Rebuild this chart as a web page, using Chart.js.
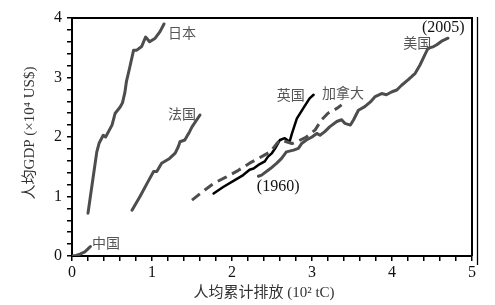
<!DOCTYPE html>
<html>
<head>
<meta charset="utf-8">
<script src="https://cdn.jsdelivr.net/npm/chart.js@4"></script>
<style>
html,body{margin:0;padding:0;background:#fff;}
#c{display:block;}
</style>
</head>
<body>
<canvas id="c" width="495" height="305"></canvas>
<script>
// ---- data (x: 人均累计排放 10² tC, y: 人均GDP 10⁴ US$) ----
const chinaX  = [0, 0.05, 0.10, 0.16, 0.20, 0.23];
const chinaY  = [0, 0.01, 0.03, 0.07, 0.12, 0.16];

const japanX  = [0.20,0.25,0.31,0.34,0.39,0.42,0.50,0.54,0.60,0.63,0.66,0.68,0.72,0.77,0.81,0.87,0.92,0.97,1.04,1.10,1.15];
const japanY  = [0.72,1.19,1.75,1.90,2.03,2.00,2.20,2.40,2.50,2.57,2.74,2.93,3.16,3.46,3.46,3.52,3.68,3.60,3.66,3.77,3.90];

const franceX = [0.75,0.85,0.95,1.02,1.06,1.12,1.22,1.29,1.33,1.35,1.41,1.47,1.50,1.56,1.60];
const franceY = [0.77,1.00,1.25,1.42,1.42,1.56,1.64,1.73,1.84,1.92,1.95,2.09,2.17,2.29,2.37];

const canadaX = [1.50,1.66,1.77,1.93,2.08,2.22,2.33,2.41,2.48,2.56,2.60,2.68,2.75,2.81,2.93,3.04,3.12,3.20,3.31,3.37];
const canadaY = [0.94,1.11,1.22,1.33,1.44,1.56,1.64,1.70,1.75,1.89,1.95,1.92,1.89,1.92,2.00,2.12,2.29,2.40,2.48,2.54];

const ukX     = [1.77,1.89,2.04,2.14,2.22,2.27,2.33,2.37,2.41,2.45,2.50,2.54,2.60,2.66,2.72,2.75,2.81,2.89,2.97,3.02];
const ukY     = [1.05,1.16,1.28,1.36,1.45,1.47,1.53,1.56,1.59,1.67,1.73,1.81,1.95,1.98,1.92,2.06,2.31,2.48,2.65,2.71];

const usX     = [2.33,2.37,2.48,2.56,2.62,2.68,2.77,2.83,2.87,2.93,3.00,3.06,3.10,3.16,3.22,3.31,3.37,3.41,3.48,3.52,3.58,3.66,3.73,3.79,3.87,3.93,4.00,4.06,4.12,4.20,4.29,4.35,4.41,4.45,4.52,4.56,4.62,4.70];
const usY     = [1.34,1.36,1.47,1.56,1.64,1.75,1.78,1.81,1.89,1.95,2.00,2.06,2.03,2.09,2.17,2.26,2.29,2.23,2.20,2.29,2.45,2.51,2.59,2.68,2.73,2.71,2.76,2.79,2.87,2.96,3.07,3.21,3.38,3.49,3.52,3.55,3.61,3.66];

const xTickLabels = [0,1,2,3,4,5];
const yTickLabels = [0,1,2,3,4];

// text annotations anchored at data coordinates (left edge, vertical middle)
const cnLabels   = [
  {text:'日本',   x:1.20, y:3.76},
  {text:'法国',   x:1.20, y:2.40},
  {text:'英国',   x:2.56, y:2.71},
  {text:'加拿大', x:3.125, y:2.74},
  {text:'美国',   x:4.14, y:3.58},
  {text:'中国',   x:0.25, y:0.22}
];
const yearLabels = [
  {text:'(2005)', x:4.375, y:3.83},
  {text:'(1960)', x:2.31,  y:1.16}
];

const xTitle = '人均累计排放 (10² tC)';
const yTitle = '人均GDP (×10⁴ US$)';

const zip = (xs, ys) => xs.map((x, i) => ({x, y: ys[i]}));
const GRAY = '#4d4d4d';
const SERIF = '"Liberation Serif", "DejaVu Serif", serif';
const CJK = '"Noto Sans CJK SC", "Noto Sans", sans-serif';

function line(label, xs, ys, color, width, dash) {
  return {
    label, data: zip(xs, ys), showLine: true, borderColor: color, borderWidth: width,
    borderDash: dash || [], pointRadius: 0, tension: 0, fill: false,
    borderJoinStyle: 'round', borderCapStyle: dash ? 'butt' : 'round'
  };
}

const intLabel = (list) => (v) => {
  const r = Math.round(v);
  return (Math.abs(v - r) < 1e-6 && list.includes(r)) ? String(r) : '';
};

const decor = {
  id: 'decor',
  afterDraw(chart) {
    const {ctx, chartArea: a, scales: {x, y}} = chart;
    ctx.save();
    // frame top/right
    ctx.strokeStyle = '#000';
    ctx.lineWidth = 2;
    ctx.beginPath();
    ctx.moveTo(a.left, a.top); ctx.lineTo(a.right, a.top); ctx.lineTo(a.right, a.bottom);
    ctx.stroke();
    // extra thin line at right
    ctx.lineWidth = 1.3;
    ctx.beginPath();
    ctx.moveTo(a.right + 5.5, a.top - 1); ctx.lineTo(a.right + 5.5, a.bottom + 9);
    ctx.stroke();
    // chinese labels
    ctx.textBaseline = 'middle';
    ctx.textAlign = 'left';
    ctx.fillStyle = '#555';
    ctx.font = '14px ' + CJK;
    cnLabels.forEach(l => ctx.fillText(l.text, x.getPixelForValue(l.x), y.getPixelForValue(l.y)));
    ctx.fillStyle = '#111';
    ctx.font = '16px ' + SERIF;
    yearLabels.forEach(l => ctx.fillText(l.text, x.getPixelForValue(l.x), y.getPixelForValue(l.y)));
    // axis titles
    ctx.fillStyle = '#333';
    ctx.font = '15px ' + SERIF.replace('serif', '"Noto Sans CJK SC", serif');
    ctx.textAlign = 'center';
    ctx.fillText(xTitle, (a.left + a.right) / 2 - 8, a.bottom + 37);
    ctx.translate(30, (a.top + a.bottom) / 2 - 4);
    ctx.rotate(-Math.PI / 2);
    ctx.fillText(yTitle, 0, 0);
    ctx.restore();
  }
};

new Chart(document.getElementById('c'), {
  type: 'scatter',
  data: {
    datasets: [
      line('中国', chinaX, chinaY, GRAY, 3),
      line('日本', japanX, japanY, GRAY, 3),
      line('法国', franceX, franceY, GRAY, 3),
      line('加拿大', canadaX, canadaY, GRAY, 3, [10, 6]),
      line('美国', usX, usY, GRAY, 3),
      line('英国', ukX, ukY, '#000', 2.5)
    ]
  },
  options: {
    responsive: false,
    animation: false,
    devicePixelRatio: 1,
    layout: {padding: {top: 18, right: 23, left: 0, bottom: 0}},
    plugins: {legend: {display: false}, tooltip: {enabled: false}},
    scales: {
      x: {
        type: 'linear', min: 0, max: 5,
        afterFit: s => { s.height = 49; },
        border: {display: true, color: '#000', width: 2},
        grid: {drawOnChartArea: false, drawTicks: true, tickLength: 5, color: '#000', lineWidth: 1.5},
        ticks: {stepSize: 0.2, autoSkip: false, maxRotation: 0, padding: 2, color: '#111',
                font: {family: SERIF, size: 16}, callback: intLabel(xTickLabels)}
      },
      y: {
        type: 'linear', min: 0, max: 4,
        afterFit: s => { s.width = 72; },
        border: {display: true, color: '#000', width: 2},
        grid: {drawOnChartArea: false, drawTicks: true, tickLength: 5, color: '#000', lineWidth: 1.5},
        ticks: {stepSize: 0.2, autoSkip: false, padding: 5, color: '#111',
                font: {family: SERIF, size: 16}, callback: intLabel(yTickLabels)}
      }
    }
  },
  plugins: [decor]
});
</script>
</body>
</html>
